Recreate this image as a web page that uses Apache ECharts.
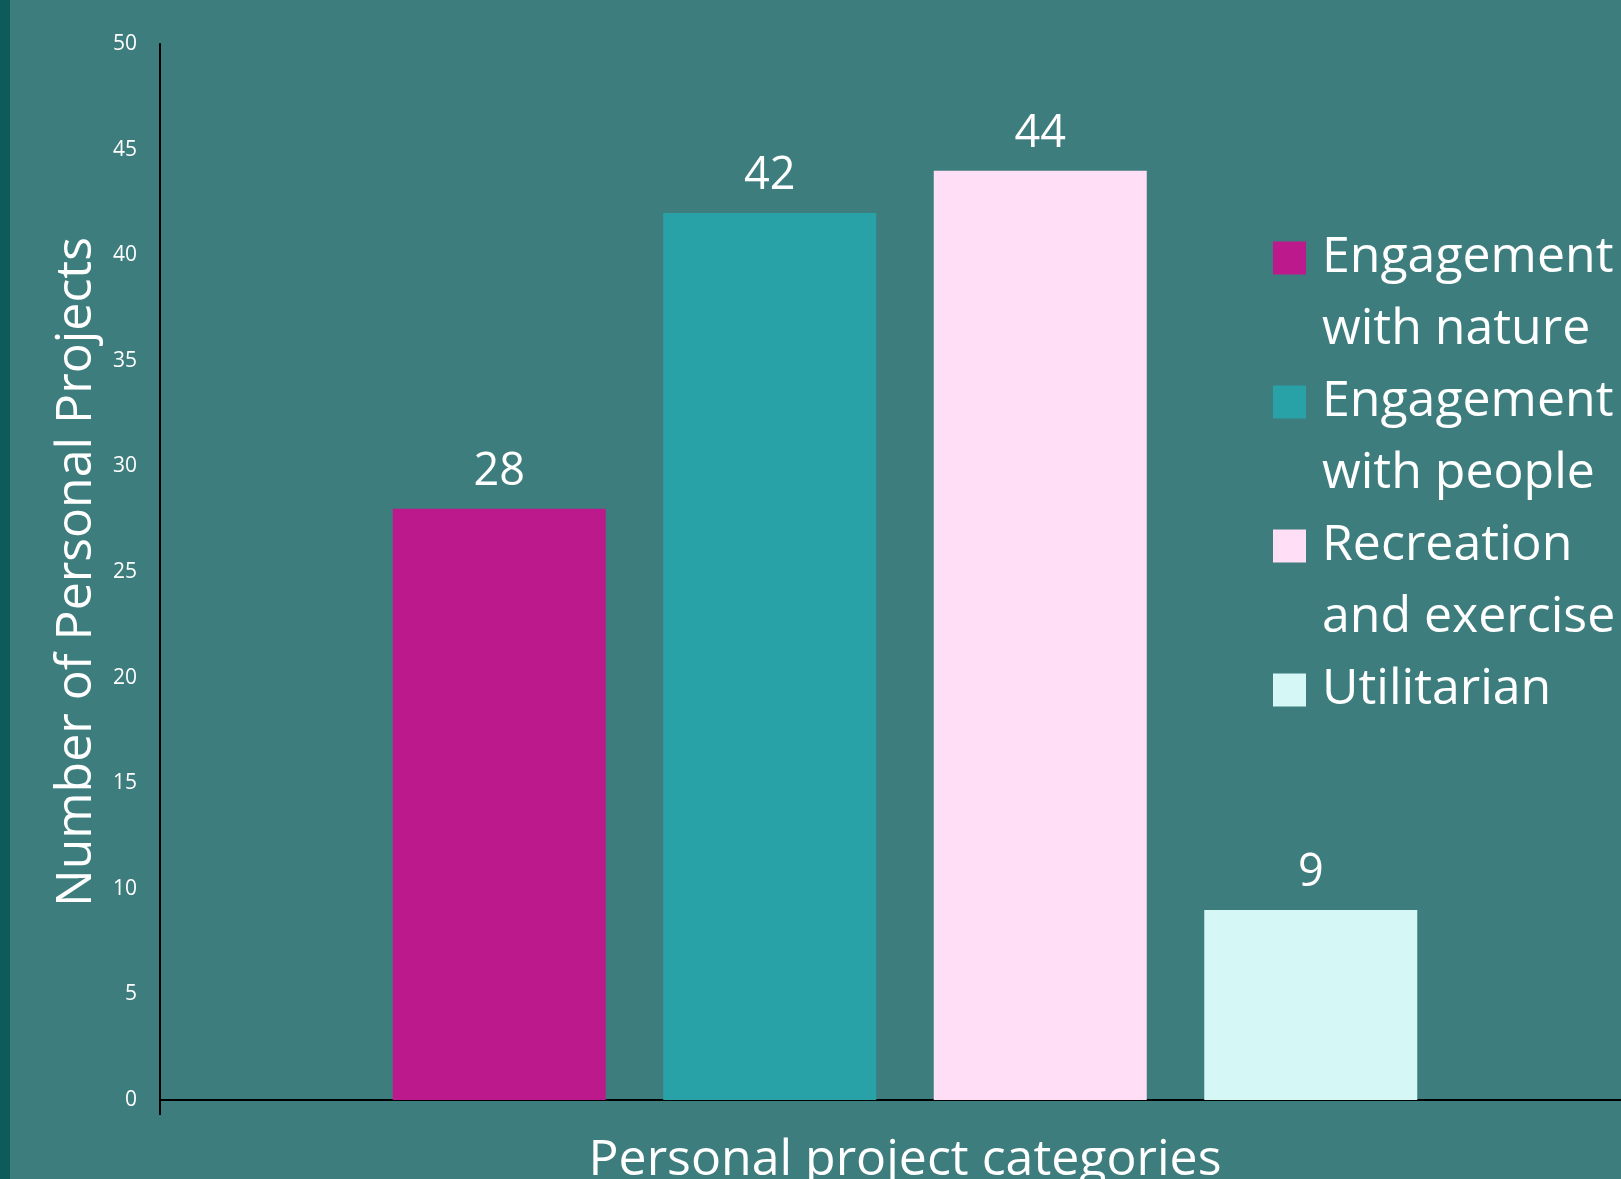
<!DOCTYPE html>
<html>
<head>
<meta charset="utf-8">
<script src="https://cdn.jsdelivr.net/npm/echarts@6/dist/echarts.min.js"></script>
<style>
  html, body { margin: 0; padding: 0; background: #3e7d7d; }
  #chart { width: 1621px; height: 1179px; }
</style>
</head>
<body>
<div id="chart"></div>
<script>
// data
const categories = ['Personal project categories'];
const seriesNames = ['Engagement with nature', 'Engagement with people', 'Recreation and exercise', 'Utilitarian'];
const seriesValues = [28, 42, 44, 9];
const seriesColors = ['#bc1a8c', '#29a2a7', '#ffdef6', '#d5f8f6'];
const yTicks = { min: 0, max: 50, interval: 5 };

const font = '"Open Sans", "Noto Sans", sans-serif';

const myChart = echarts.init(document.getElementById('chart'));

const series = seriesNames.map((name, i) => ({
  name: name,
  type: 'bar',
  data: [seriesValues[i]],
  barWidth: 213,
  barGap: '27%',
  itemStyle: { color: seriesColors[i] },
  label: {
    show: true,
    position: 'top',
    distance: 14,
    color: '#ffffff',
    fontSize: 45,
    fontFamily: font
  }
}));

myChart.setOption({
  backgroundColor: '#3e7d7d',
  animation: false,
  graphic: [
    {
      type: 'rect',
      left: 0,
      top: 0,
      shape: { width: 10, height: 1179 },
      style: { fill: '#0e5b5c' }
    }
  ],
  grid: {
    left: 160,
    right: -29,
    top: 44,
    bottom: 79,
    outerBoundsMode: 'none',
    containLabel: false
  },
  legend: {
    orient: 'vertical',
    left: 1273,
    top: 150,
    padding: 0,
    itemWidth: 33,
    itemHeight: 33,
    itemGap: -72,
    icon: 'rect',
    data: seriesNames,
    formatter: (name) => {
      // wrap as in the picture; a blank first line keeps the square level with the first text line
      const parts = name.replace(/ (with|and) /, '\n$1 ');
      return ' \n' + (parts.indexOf('\n') >= 0 ? parts : parts + '\n ');
    },
    textStyle: {
      color: '#ffffff',
      fontSize: 50,
      lineHeight: 72,
      fontFamily: font,
      padding: [0, 0, 0, 11]
    }
  },
  xAxis: {
    type: 'category',
    data: categories,
    name: 'Personal project categories',
    nameLocation: 'middle',
    nameGap: 36,
    nameTextStyle: { color: '#ffffff', fontSize: 50, fontFamily: font },
    axisLine: { show: true, lineStyle: { color: '#000000', width: 2 } },
    axisTick: { show: true, length: 15, lineStyle: { color: '#000000', width: 2 } },
    axisLabel: { show: false },
    splitLine: { show: false }
  },
  yAxis: {
    type: 'value',
    min: yTicks.min,
    max: yTicks.max,
    interval: yTicks.interval,
    name: 'Number of Personal Projects',
    nameLocation: 'middle',
    nameGap: 57,
    nameTextStyle: { color: '#ffffff', fontSize: 50, fontFamily: font },
    axisLine: { show: true, lineStyle: { color: '#000000', width: 2 } },
    axisTick: { show: false },
    axisLabel: { color: '#ffffff', fontSize: 21, margin: 23, fontFamily: font },
    splitLine: { show: false }
  },
  series: series
});
</script>
</body>
</html>
